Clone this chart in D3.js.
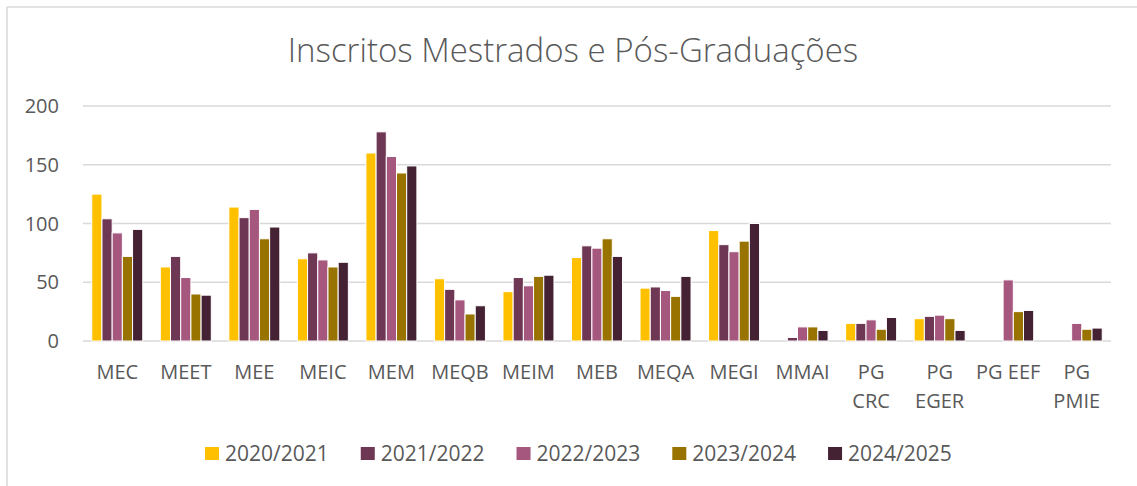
<!DOCTYPE html>
<html>
<head>
<meta charset="utf-8">
<script src="https://cdn.jsdelivr.net/npm/d3@7"></script>
<style>
  html, body { margin: 0; padding: 0; background: #fff; }
  svg { display: block; font-family: "Open Sans", sans-serif; }
</style>
</head>
<body>
<svg id="chart" width="1137" height="486"></svg>
<script>
const categories = ["MEC","MEET","MEE","MEIC","MEM","MEQB","MEIM","MEB","MEQA","MEGI","MMAI","PG CRC","PG EGER","PG EEF","PG PMIE"];
const seriesNames = ["2020/2021","2021/2022","2022/2023","2023/2024","2024/2025"];
const s2020 = [125, 63, 114, 70, 160, 53, 42, 71, 45, 94, 0, 15, 19, 0, 0];
const s2021 = [104, 72, 105, 75, 178, 44, 54, 81, 46, 82, 3, 15, 21, 0, 0];
const s2022 = [92, 54, 112, 69, 157, 35, 47, 79, 43, 76, 12, 18, 22, 52, 15];
const s2023 = [72, 40, 87, 63, 143, 23, 55, 87, 38, 85, 12, 10, 19, 25, 10];
const s2024 = [95, 39, 97, 67, 149, 30, 56, 72, 55, 100, 9, 20, 9, 26, 11];
const yTicks = [0, 50, 100, 150, 200];
const colors = ["#FFC000", "#6E3753", "#A5577E", "#997300", "#442233"];
const title = "Inscritos Mestrados e Pós-Graduações";

const seriesValues = [s2020, s2021, s2022, s2023, s2024];
const svg = d3.select("#chart");
const textColor = "#595959";

// chart border
svg.append("line").attr("x1", 7).attr("y1", 7).attr("x2", 1137).attr("y2", 7)
  .attr("stroke", "#d9d9d9").attr("stroke-width", 1.5);
svg.append("line").attr("x1", 7).attr("y1", 7).attr("x2", 7).attr("y2", 486)
  .attr("stroke", "#d9d9d9").attr("stroke-width", 1.5);

// title
svg.append("text").attr("x", 573).attr("y", 62).attr("text-anchor", "middle")
  .attr("fill", textColor).attr("font-size", 33).attr("font-weight", 300)
  .text(title);

const plot = { left: 83, right: 1111, top: 106, bottom: 341 };
const x0 = d3.scaleBand().domain(categories).range([plot.left, plot.right])
  .paddingInner(0.256).paddingOuter(0.128);
const x1 = d3.scaleBand().domain(seriesNames).range([0, x0.bandwidth()]).padding(0);
const y = d3.scaleLinear().domain([0, 200]).range([plot.bottom, plot.top]);

// gridlines
svg.append("g").selectAll("line").data(yTicks).join("line")
  .attr("x1", plot.left).attr("x2", plot.right)
  .attr("y1", d => y(d)).attr("y2", d => y(d))
  .attr("stroke", "#d9d9d9").attr("stroke-width", 1.5);

// y labels
svg.append("g").selectAll("text").data(yTicks).join("text")
  .attr("x", 59).attr("y", d => y(d)).attr("dy", "0.36em")
  .attr("text-anchor", "end").attr("fill", textColor).attr("font-size", 20)
  .text(d => d);

// bars
const rows = [];
categories.forEach((c, i) => {
  seriesNames.forEach((s, j) => rows.push({ cat: c, series: s, value: seriesValues[j][i], color: colors[j] }));
});
svg.append("g").selectAll("rect").data(rows.filter(d => d.value > 0)).join("rect")
  .attr("x", d => x0(d.cat) + x1(d.series))
  .attr("width", x1.bandwidth())
  .attr("y", d => y(d.value))
  .attr("height", d => y(0) - y(d.value))
  .attr("fill", d => d.color)
  .attr("stroke", "#fff").attr("stroke-width", 1);

// x labels with wrapping
const xl = svg.append("g");
const maxW = x0.step() - 2;
categories.forEach(c => {
  const cx = x0(c) + x0.bandwidth() / 2;
  const t = xl.append("text").attr("x", cx).attr("y", 379).attr("text-anchor", "middle")
    .attr("fill", textColor).attr("font-size", 20);
  const words = c.split(" ");
  let line = [];
  let lines = [];
  let ts = t.append("tspan").attr("x", cx).attr("y", 379);
  words.forEach(w => {
    line.push(w);
    ts.text(line.join(" "));
    if (ts.node().getComputedTextLength() > maxW && line.length > 1) {
      line.pop();
      ts.text(line.join(" "));
      lines.push(ts);
      line = [w];
      ts = t.append("tspan").attr("x", cx).attr("y", 379 + 29 * (lines.length)).text(w);
    }
  });
});

// legend
const lg = svg.append("g");
let lx = 205;
seriesNames.forEach((s, j) => {
  lg.append("rect").attr("x", lx).attr("y", 447).attr("width", 14).attr("height", 13)
    .attr("fill", colors[j]);
  const t = lg.append("text").attr("x", lx + 20).attr("y", 461)
    .attr("fill", textColor).attr("font-size", 21).text(s);
  lx += 20 + t.node().getComputedTextLength() + 32;
});
</script>
</body>
</html>
